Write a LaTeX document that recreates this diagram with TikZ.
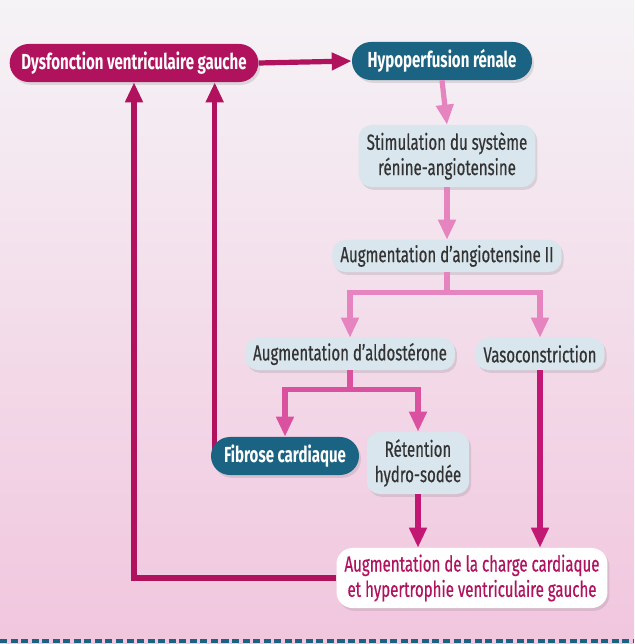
\documentclass[tikz,border=0pt]{standalone}
\usepackage{fontspec}
\setmainfont{Fira Sans}[FakeStretch=0.69]
\newfontfamily\medfont{Fira Sans}[FakeStretch=0.69, FakeBold=0.5]
\usepackage{tikz}
\usetikzlibrary{arrows.meta, calc, positioning, shapes.misc, shadows, backgrounds}

\definecolor{cardmag}{HTML}{B0125E}
\definecolor{cardteal}{HTML}{1B6382}
\definecolor{boxgrey}{HTML}{D9E6ED}
\definecolor{txtgrey}{HTML}{333333}
\definecolor{arrlight}{HTML}{E584BE}
\definecolor{arrmid}{HTML}{D9519F}
\definecolor{arrdark}{HTML}{C21874}
\definecolor{bgtop}{HTML}{F5F3F6}
\definecolor{bgmid}{HTML}{F3E2EC}
\definecolor{bgbot}{HTML}{F1C6DE}

\begin{document}
\begin{tikzpicture}[x=0.025cm, y=-0.025cm,
    boxshadow/.style={drop shadow={opacity=0.22, shadow xshift=0.05cm, shadow yshift=-0.07cm}},
    pill/.style={rounded rectangle, boxshadow, text=white, inner xsep=0.2cm,
        minimum height=0.95cm, font=\fontsize{15.5}{17}\selectfont\bfseries},
    magpill/.style={pill, fill=cardmag},
    tealpill/.style={pill, fill=cardteal},
    greybox/.style={rounded corners=0.32cm, boxshadow, fill=boxgrey, text=txtgrey,
        inner xsep=0.2cm, minimum height=0.8cm, align=center,
        font=\fontsize{15.5}{18}\medfont},
    whitebox/.style={greybox, fill=white, text=cardmag, rounded corners=0.4cm},
    flow/.style={line width=0.13cm, -{Triangle[length=0.5cm, width=0.42cm]}},
    plain/.style={line width=0.13cm},
    feedback/.style={flow, color=cardmag}]

    \useasboundingbox (0,0) rectangle (634,644);
    \begin{scope}[on background layer]
        \shade[top color=bgtop, middle color=bgmid, bottom color=bgbot] (0,0) rectangle (634,644);
        \draw[cardteal, line width=0.08cm, dash pattern=on 5pt off 2.5pt] (0,641) -- (634,641);
    \end{scope}

    % boites
    \node[magpill, minimum width=6.2cm] (dysf) at (134,63) {Dysfonction ventriculaire gauche};
    \node[tealpill, minimum width=4.9cm] (hypo) at (442,61) {Hypoperfusion rénale};
    \node[greybox, minimum height=1.55cm] (stim) at (447,156) {Stimulation du système\\rénine-angiotensine};
    \node[greybox] (ang) at (447,256) {Augmentation d’angiotensine II};
    \node[greybox] (aldo) at (350,354) {Augmentation d’aldostérone};
    \node[greybox] (vaso) at (540,354) {Vasoconstriction};
    \node[tealpill, minimum width=4.1cm] (fib) at (285,456) {Fibrose cardiaque};
    \node[greybox, minimum height=1.55cm] (ret) at (418,463) {Rétention\\hydro-sodée};
    \node[whitebox, minimum height=1.5cm] (charge) at (472,578) {Augmentation de la charge cardiaque\\et hypertrophie ventriculaire gauche};

    % fleches
    \draw[feedback] (dysf.east) -- (hypo.west);
    \draw[flow, arrlight] (hypo.south) -- (stim.north);
    \draw[flow, arrlight] (stim.south) -- (ang.north);

    \coordinate (angsplit) at ($(ang.south)+(0,20)$);
    \draw[plain, arrlight] (ang.south) -- (angsplit);
    \draw[flow, arrlight] (angsplit) -| (aldo.north);
    \draw[flow, arrlight] (angsplit) -| (vaso.north);

    \coordinate (aldosplit) at ($(aldo.south)+(0,19)$);
    \draw[plain, arrmid] (aldo.south) -- (aldosplit);
    \draw[flow, arrmid] (aldosplit) -| (fib.north);
    \draw[flow, arrmid] (aldosplit) -| (ret.north);

    \draw[flow, arrdark] (ret.south) -- (ret.south |- charge.north);
    \draw[flow, arrdark] (vaso.south) -- (vaso.south |- charge.north);

    \draw[feedback] (charge.west) -| (dysf.south);
    \coordinate (fibfoot) at ($(fib.west)+(4,0)$);
    \begin{scope}[on background layer]
        \draw[feedback] (fibfoot) -- (fibfoot |- dysf.south);
    \end{scope}
\end{tikzpicture}
\end{document}
